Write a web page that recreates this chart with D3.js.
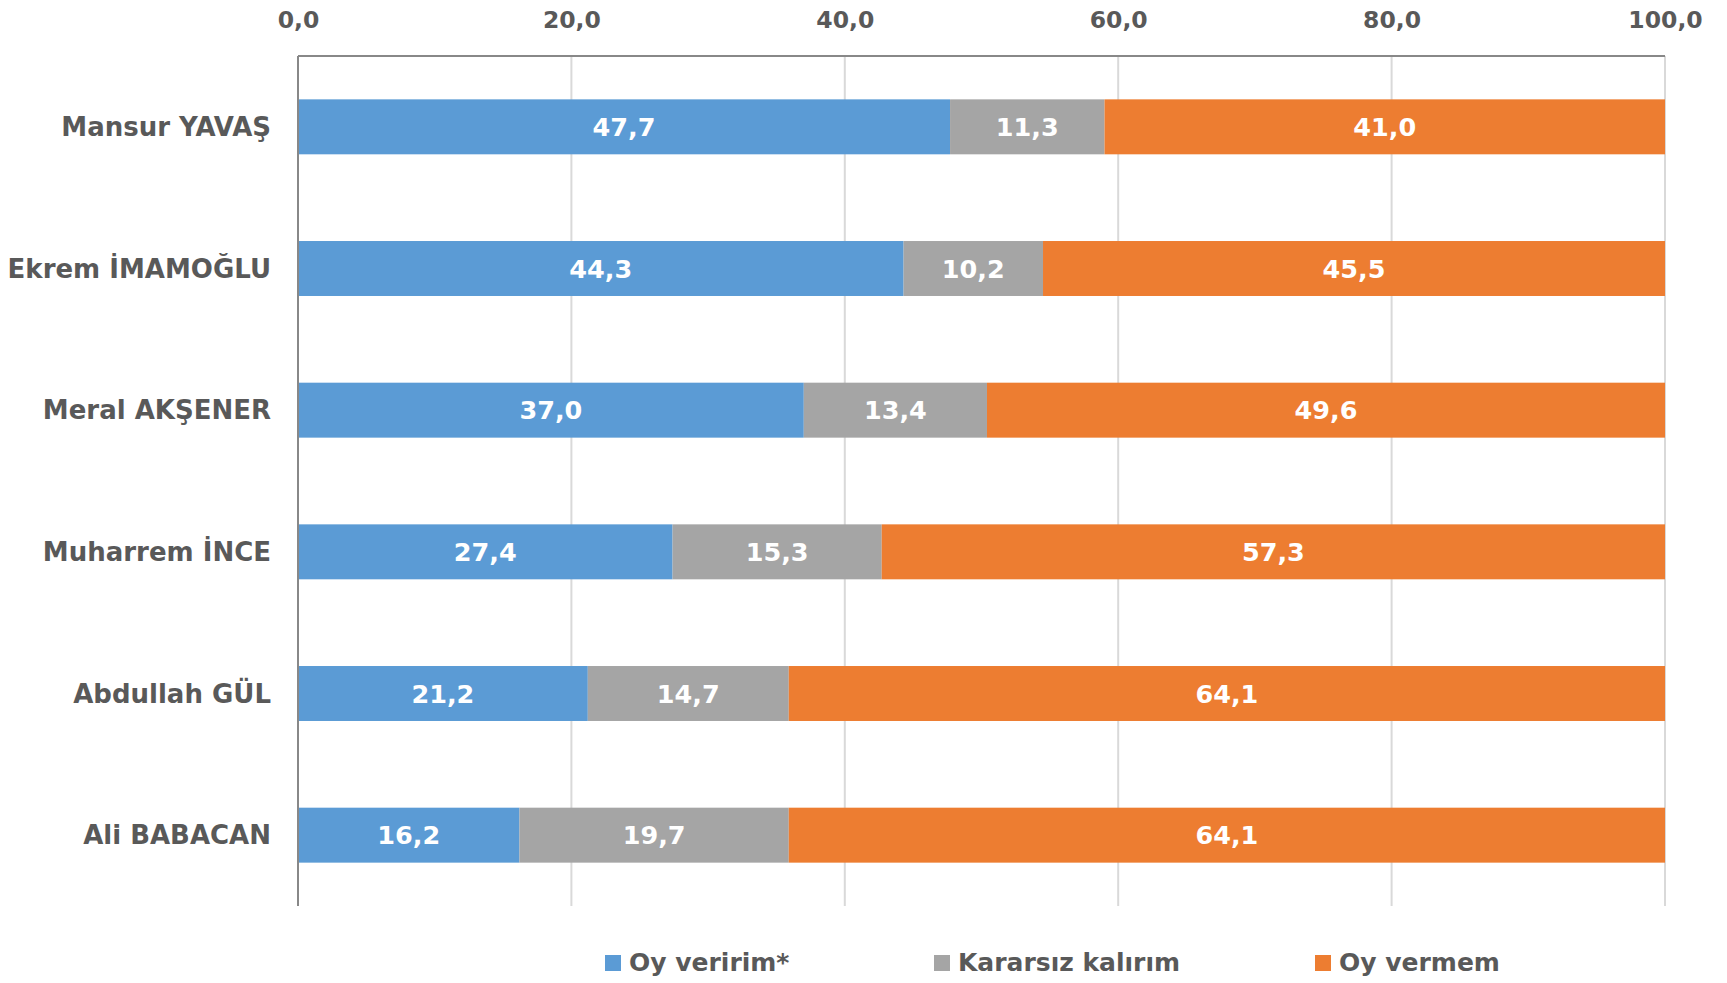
<!DOCTYPE html>
<html><head><meta charset="utf-8">
<script src="https://cdn.jsdelivr.net/npm/d3@7"></script>
<style>
html,body{margin:0;padding:0;background:#fff;}
svg text{font-family:"DejaVu Sans",sans-serif;font-weight:700;}
</style></head>
<body>
<svg id="chart" width="1727" height="983"></svg>
<script>
const categories = ["Mansur YAVAŞ","Ekrem İMAMOĞLU","Meral AKŞENER","Muharrem İNCE","Abdullah GÜL","Ali BABACAN"];
const seriesNames = ["Oy veririm*","Kararsız kalırım","Oy vermem"];
const oyVeririm = [47.7,44.3,37.0,27.4,21.2,16.2];
const kararsiz = [11.3,10.2,13.4,15.3,14.7,19.7];
const oyVermem = [41.0,45.5,49.6,57.3,64.1,64.1];
const tickValues = [0,20,40,60,80,100];
const colors = ["#5B9BD5","#A5A5A5","#ED7D31"];

(function(){
const svg = d3.select("#chart");
const pL = 298, pR = 1665, pT = 56, pB = 906;
const fmt = v => d3.format(".1f")(v).replace(".", ",");
const FONT = "DejaVu Sans, sans-serif";

const x = d3.scaleLinear().domain([0,100]).range([pL,pR]);
const y = d3.scaleBand().domain(categories).range([pT,pB]).paddingInner(0.612).paddingOuter(0.306);

// gridlines
svg.append("g").selectAll("line").data(tickValues.filter(d=>d>0)).join("line")
  .attr("x1",d=>x(d)).attr("x2",d=>x(d)).attr("y1",pT).attr("y2",pB)
  .attr("stroke","#D9D9D9").attr("stroke-width",2);

const stackData = categories.map((c,i)=>({cat:c, s0:oyVeririm[i], s1:kararsiz[i], s2:oyVermem[i]}));
const stack = d3.stack().keys(["s0","s1","s2"])(stackData);

const g = svg.append("g");
stack.forEach((layer,k)=>{
  g.append("g").selectAll("rect").data(layer).join("rect")
    .attr("x",d=>x(d[0])).attr("width",d=>x(d[1])-x(d[0]))
    .attr("y",d=>y(d.data.cat)).attr("height",y.bandwidth())
    .attr("fill",colors[k]);
});
stack.forEach((layer,k)=>{
  g.append("g").selectAll("text").data(layer).join("text")
    .attr("x",d=>(x(d[0])+x(d[1]))/2)
    .attr("y",d=>y(d.data.cat)+y.bandwidth()/2+2)
    .attr("text-anchor","middle").attr("dominant-baseline","middle")
    .attr("fill","#fff").attr("font-size",25.5)
    .text(d=>fmt(d[1]-d[0]));
});

// axes lines
svg.append("line").attr("x1",pL).attr("x2",pR).attr("y1",pT).attr("y2",pT)
  .attr("stroke","#888").attr("stroke-width",2);
svg.append("line").attr("x1",pL).attr("x2",pL).attr("y1",pT).attr("y2",pB)
  .attr("stroke","#888").attr("stroke-width",2);

// top axis tick labels
const xAxis = d3.axisTop(x).tickValues(tickValues).tickFormat(fmt).tickSize(0).tickPadding(0);
const ax = svg.append("g").attr("transform","translate(0,20)").call(xAxis);
ax.select(".domain").remove();
ax.selectAll("text").attr("font-size",23.5).attr("fill","#595959")
  .attr("font-family",FONT).attr("font-weight",700).attr("dy","0.35em").attr("y",0);

// y axis labels
const yAxis = d3.axisLeft(y).tickSize(0).tickPadding(0);
const ay = svg.append("g").attr("transform","translate(271,0)").call(yAxis);
ay.select(".domain").remove();
ay.selectAll("text").attr("font-size",26).attr("fill","#595959")
  .attr("font-family",FONT).attr("font-weight",700).attr("dy","0.35em");

// legend
const legX = [605,934,1315];
const lg = svg.append("g");
seriesNames.forEach((n,i)=>{
  lg.append("rect").attr("x",legX[i]).attr("y",955).attr("width",16).attr("height",16).attr("fill",colors[i]);
  lg.append("text").attr("x",legX[i]+24).attr("y",964).attr("dominant-baseline","middle")
    .attr("font-size",25).attr("fill","#595959").text(n);
});
})();
</script>
</body></html>
